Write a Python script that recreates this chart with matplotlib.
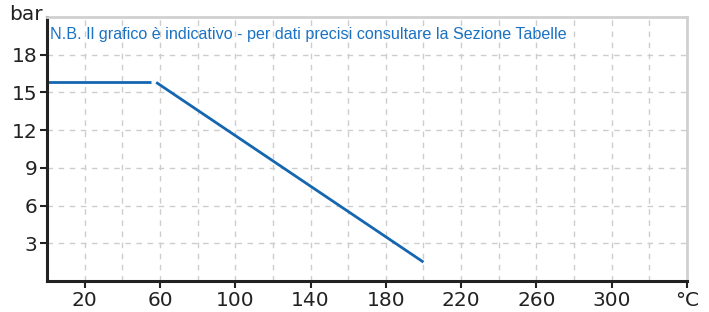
import matplotlib
matplotlib.use("Agg")
import matplotlib.pyplot as plt
import numpy as np

# data
flat_T = [0, 55]
flat_P = [15.8, 15.8]
slope_T = [58, 200]
slope_P = [15.8, 1.5]

xticks = [20, 60, 100, 140, 180, 220, 260, 300, 340]
xticklabels = ["20", "60", "100", "140", "180", "220", "260", "300", "°C"]
xgrid = list(range(20, 340, 20))
yticks = [3, 6, 9, 12, 15, 18]
yticklabels = ["3", "6", "9", "12", "15", "18"]
note = "N.B. Il grafico è indicativo - per dati precisi consultare la Sezione Tabelle"

blue = "#1466b0"
fig = plt.figure(figsize=(7.09, 3.12), dpi=100)
ax = fig.add_axes([47/709, (312-281)/312, (687-47)/709, (281-17)/312])
ax.set_xlim(0, 340)
ax.set_ylim(0, 21)

for g in xgrid:
    ax.axvline(g, color="#cdcdcd", lw=1, ls=(0, (4, 4)), zorder=0)
for g in yticks:
    ax.axhline(g, color="#cdcdcd", lw=1, ls=(0, (4, 4)), zorder=0)

ax.plot(flat_T, flat_P, color=blue, lw=2.0, solid_capstyle="butt")
ax.plot(slope_T, slope_P, color=blue, lw=2.0, solid_capstyle="butt")

ax.set_xticks(xticks)
ax.set_xticklabels(xticklabels)
ax.set_yticks(yticks)
ax.set_yticklabels(yticklabels)
ax.tick_params(axis="both", direction="out", length=5, width=1.5, color="#222222",
               labelsize=14.5, labelcolor="#222222", pad=2)

for s in ["left", "bottom"]:
    ax.spines[s].set_color("#222222")
    ax.spines[s].set_linewidth(2.2)
for s in ["top", "right"]:
    ax.spines[s].set_color("#d0d0d0")
    ax.spines[s].set_linewidth(2)

ax.text(3/640, 1 - 18/264, note, transform=ax.transAxes, color="#1a72c4",
        fontsize=11.6, family="Liberation Sans", va="center", ha="left")
fig.text(43/709, (312-14)/312, "bar", ha="right", va="center", fontsize=14.5, color="#222222")

fig.savefig("out.png", dpi=100)
